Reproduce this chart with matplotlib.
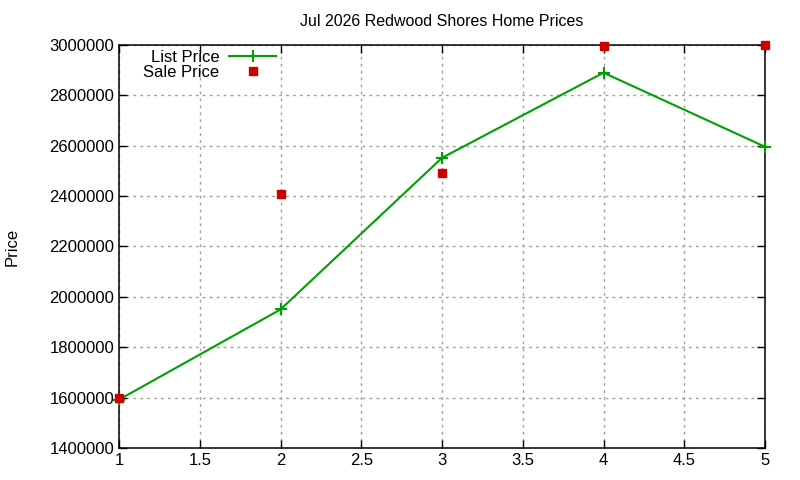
import matplotlib
matplotlib.use("Agg")
import matplotlib.pyplot as plt

# data
months = [1, 2, 3, 4, 5]
list_price = [1592000, 1950000, 2552000, 2890000, 2596000]
sale_price = [1600000, 2410000, 2490000, 2995000, 3000000]

plt.rcParams['font.family'] = ['Liberation Sans', 'DejaVu Sans']
plt.rcParams['font.size'] = 12

fig = plt.figure(figsize=(8, 4.8), dpi=100)
ax = fig.add_axes([119/800, 1 - 448/480, (765-119)/800, (448-45)/480])

ax.plot(months, list_price, color='#00a000', lw=1.5, marker='+', ms=8,
        mew=1.5, label='List Price', clip_on=False, zorder=3)
ax.plot(months, sale_price, ls='none', color='#cc0000', marker='s', ms=6,
        label='Sale Price', clip_on=False, zorder=4)

ax.set_xlim(1, 5)
ax.set_ylim(1400000, 3000000)
ax.set_xticks([1, 1.5, 2, 2.5, 3, 3.5, 4, 4.5, 5])
ax.set_xticklabels(['1', '1.5', '2', '2.5', '3', '3.5', '4', '4.5', '5'])
ax.set_yticks(range(1400000, 3000001, 200000))
ax.set_yticklabels([str(v) for v in range(1400000, 3000001, 200000)])
ax.tick_params(direction='in', top=True, right=True, length=6, width=1)
ax.grid(True, color='#a0a0a0', ls=(0, (2, 3)), lw=1)
for s in ax.spines.values():
    s.set_linewidth(1.1)

ax.set_title('Jul 2026 Redwood Shores Home Prices', fontsize=11.5, pad=14)
ax.set_ylabel('Price', labelpad=21)

ax.legend(loc='upper left', bbox_to_anchor=(0.017, 1.02), frameon=False,
          markerfirst=False, handlelength=2.8, borderpad=0.3,
          labelspacing=0.0, handletextpad=0.6)

fig.savefig('out.png', dpi=100)
